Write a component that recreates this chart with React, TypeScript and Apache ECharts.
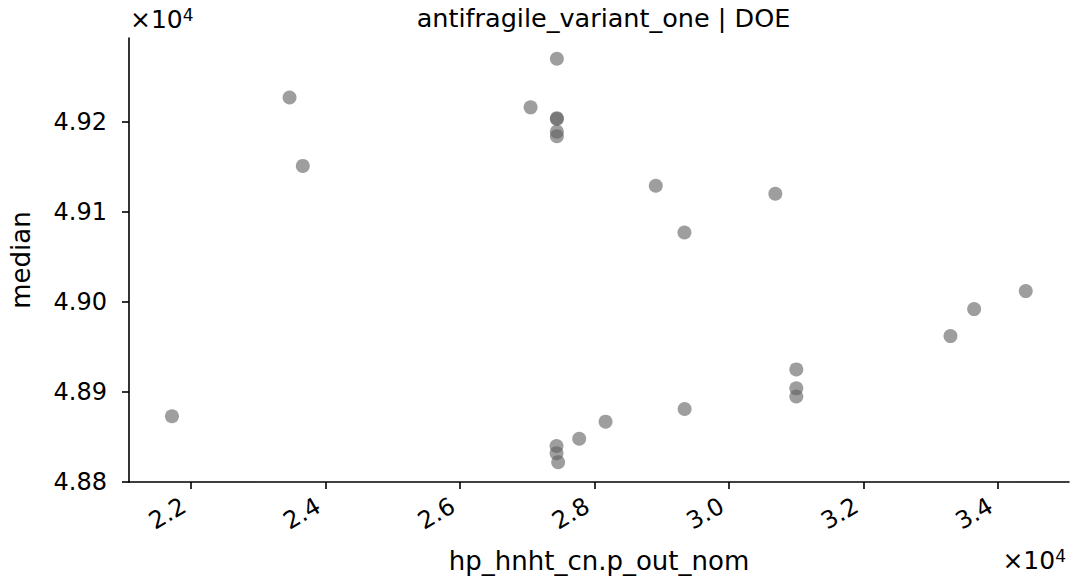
import React, { useEffect, useRef } from "react";
import * as echarts from "echarts";

const xValues = [21718, 23467, 23664, 27052, 27443, 27443, 27443, 27443, 27443, 28914, 29340, 30692, 33297, 33649, 34417, 31004, 31004, 31004, 28167, 27775, 27438, 27438, 27462, 29343];
const yValues = [48873, 49227, 49151, 49216, 49270, 49204, 49203, 49189, 49184, 49129, 49077, 49120, 48962, 48992, 49012, 48925, 48904, 48895, 48867, 48848, 48840, 48832, 48822, 48881];
const xTicks = [22000, 24000, 26000, 28000, 30000, 32000, 34000];
const yTicks = [48800, 48900, 49000, 49100, 49200];

const FONT = "DejaVu Sans";
const FS = 24;
const FS_NAME = 26;

export default function App() {
  const ref = useRef<HTMLDivElement>(null);
  useEffect(() => {
    if (!ref.current) return;
    const chart = echarts.init(ref.current, null, { renderer: "svg" });
    const points = xValues.map((x, i) => [x, yValues[i]]);
    const sup = { s: { fontSize: 17, verticalAlign: "top", fontFamily: FONT, padding: [0, 0, 9, 0] } };
    chart.setOption({
      animation: false,
      backgroundColor: "#ffffff",
      textStyle: { fontFamily: FONT },
      grid: { left: 128, right: 4, top: 38, bottom: 98, containLabel: false },
      title: {
        text: "antifragile_variant_one | DOE",
        left: 598.5,
        top: 0,
        textAlign: "center",
        textStyle: { fontFamily: FONT, fontSize: 25.5, fontWeight: "normal", color: "#000" },
      },
      xAxis: {
        type: "value",
        min: 21079,
        max: 35060,
        name: "hp_hnht_cn.p_out_nom",
        nameLocation: "middle",
        nameGap: 66,
        nameTextStyle: { fontFamily: FONT, fontSize: FS_NAME, color: "#000" },
        splitLine: { show: false },
        axisLine: { show: true, onZero: false, lineStyle: { color: "#000", width: 1.6 } },
        axisTick: { show: true, length: 7, customValues: xTicks, lineStyle: { color: "#000", width: 1.6 } },
        axisLabel: {
          customValues: xTicks,
          rotate: 30,
          margin: 18,
          padding: [0, 8, 0, 0],
          fontFamily: FONT,
          fontSize: FS,
          color: "#000",
          formatter: (v: number) => (v / 1e4).toFixed(1),
        },
      },
      yAxis: {
        type: "value",
        min: 48800,
        max: 49293,
        name: "median",
        nameLocation: "middle",
        nameGap: 95,
        nameTextStyle: { fontFamily: FONT, fontSize: FS_NAME, color: "#000" },
        splitLine: { show: false },
        axisLine: { show: true, onZero: false, lineStyle: { color: "#000", width: 1.6 } },
        axisTick: { show: true, length: 7, customValues: yTicks, lineStyle: { color: "#000", width: 1.6 } },
        axisLabel: {
          customValues: yTicks,
          margin: 22,
          fontFamily: FONT,
          fontSize: FS,
          color: "#000",
          formatter: (v: number) => (v / 1e4).toFixed(2),
        },
      },
      graphic: [
        {
          type: "text",
          left: 130,
          top: 6,
          style: { text: "×10{s|4}", font: `25px ${FONT}`, fill: "#000", rich: sup },
        },
        {
          type: "text",
          right: 7,
          top: 547,
          style: { text: "×10{s|4}", font: `25px ${FONT}`, fill: "#000", rich: sup },
        },
      ],
      series: [
        {
          type: "scatter",
          data: points,
          symbolSize: 14,
          itemStyle: { color: "rgba(95,95,95,0.76)" },
        },
      ],
    });
    return () => chart.dispose();
  }, []);
  return <div ref={ref} style={{ position: "fixed", left: 0, top: 0, width: 1073, height: 580 }} />;
}
